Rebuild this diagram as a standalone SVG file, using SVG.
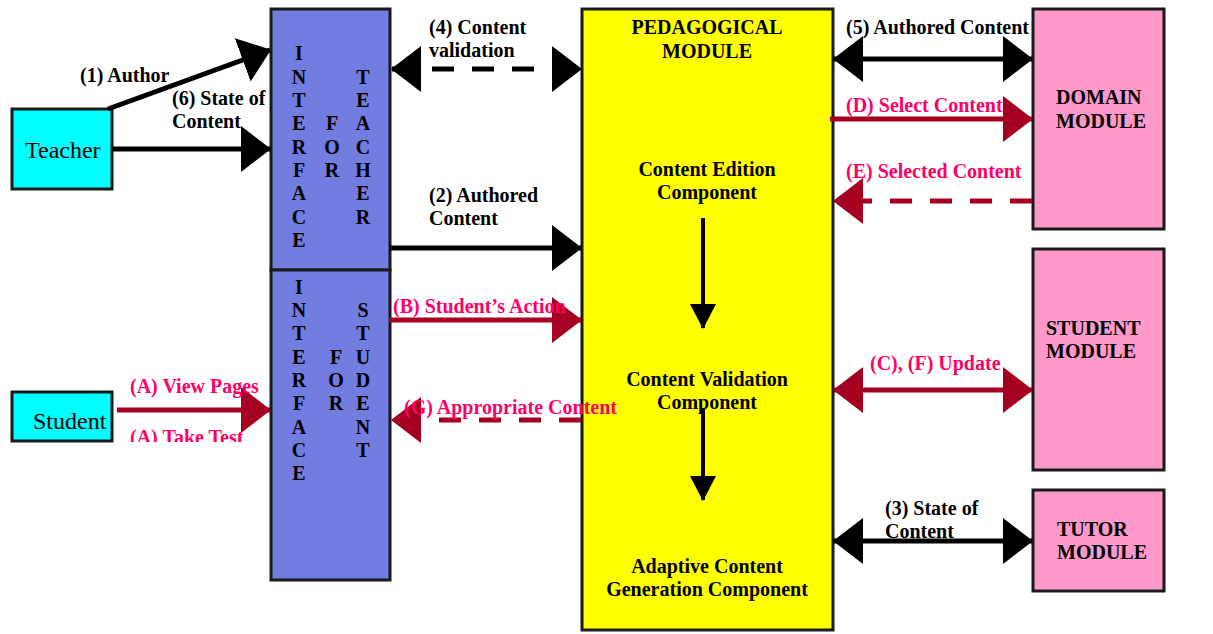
<svg xmlns="http://www.w3.org/2000/svg" width="1213" height="634" viewBox="0 0 1213 634">
<defs>
<style>
.box{stroke:#1a1a1a;stroke-width:3}
.lbl{font-family:"Liberation Serif","Times New Roman",serif;font-weight:bold;font-size:20px;fill:#000}
.pk{fill:#FF0066}
.mid{text-anchor:middle}
.big{font-family:"Liberation Serif","Times New Roman",serif;font-size:24px;fill:#000}
.blk{stroke:#000;stroke-width:5;fill:none}
.red{stroke:#A50021;stroke-width:5;fill:none}
.dash{stroke-dasharray:22 18}
</style>
<marker id="hb" viewBox="0 0 30 46" refX="29" refY="23" markerWidth="30" markerHeight="46" markerUnits="userSpaceOnUse" orient="auto-start-reverse"><path d="M0,0L30,23L0,46Z" fill="#000"/></marker>
<marker id="hr" viewBox="0 0 30 46" refX="29" refY="23" markerWidth="30" markerHeight="46" markerUnits="userSpaceOnUse" orient="auto-start-reverse"><path d="M0,0L30,23L0,46Z" fill="#A50021"/></marker>
<marker id="hs" viewBox="0 0 25 26" refX="24" refY="13" markerWidth="25" markerHeight="26" markerUnits="userSpaceOnUse" orient="auto"><path d="M0,0L25,13L0,26Z" fill="#000"/></marker>
<clipPath id="cl"><rect x="0" y="0" width="1213" height="442"/></clipPath>
</defs>

<g id="teacher"><rect class="box" x="12" y="109" width="100" height="80" fill="#00FFFF"/><text class="big" x="25" y="158">Teacher</text></g>
<g id="student"><rect class="box" x="12" y="392" width="100" height="49" fill="#00FFFF"/><text class="big" x="33" y="429">Student</text></g>

<g id="interface-teacher"><rect class="box" x="271" y="9" width="119" height="261" fill="#717DDF"/>
<g class="lbl mid">
<text x="299" y="60">I</text><text x="299" y="84">N</text><text x="299" y="107">T</text><text x="299" y="130">E</text><text x="299" y="154">R</text><text x="299" y="177">F</text><text x="299" y="200">A</text><text x="299" y="224">C</text><text x="299" y="247">E</text>
<text x="332" y="130">F</text><text x="332" y="154">O</text><text x="332" y="177">R</text>
<text x="363" y="84">T</text><text x="363" y="107">E</text><text x="363" y="130">A</text><text x="363" y="154">C</text><text x="363" y="177">H</text><text x="363" y="200">E</text><text x="363" y="224">R</text>
</g></g>

<g id="interface-student"><rect class="box" x="271" y="270" width="119" height="310" fill="#717DDF"/>
<g class="lbl mid">
<text x="299" y="294">I</text><text x="299" y="317">N</text><text x="299" y="340">T</text><text x="299" y="364">E</text><text x="299" y="387">R</text><text x="299" y="410">F</text><text x="299" y="434">A</text><text x="299" y="457">C</text><text x="299" y="480">E</text>
<text x="336" y="364">F</text><text x="336" y="387">O</text><text x="336" y="410">R</text>
<text x="363" y="317">S</text><text x="363" y="340">T</text><text x="363" y="364">U</text><text x="363" y="387">D</text><text x="363" y="410">E</text><text x="363" y="434">N</text><text x="363" y="457">T</text>
</g></g>

<g id="pedagogical"><rect class="box" x="582" y="9" width="251" height="621" fill="#FFFF00"/>
<g class="lbl mid">
<text x="707" y="34">PEDAGOGICAL</text><text x="707" y="58">MODULE</text>
<text x="707" y="176">Content Edition</text><text x="707" y="199">Component</text>
<text x="707" y="386">Content Validation</text><text x="707" y="409">Component</text>
<text x="707" y="573">Adaptive Content</text><text x="707" y="596">Generation Component</text>
</g>
<line x1="703" y1="218" x2="703" y2="328" stroke="#000" stroke-width="4" marker-end="url(#hs)"/>
<line x1="703" y1="408" x2="703" y2="500" stroke="#000" stroke-width="4" marker-end="url(#hs)"/>
</g>

<g id="domain"><rect class="box" x="1033" y="9" width="131" height="220" fill="#FF99CC"/><text class="lbl" x="1056" y="104">DOMAIN</text><text class="lbl" x="1056" y="128">MODULE</text></g>
<g id="student-module"><rect class="box" x="1033" y="249" width="131" height="221" fill="#FF99CC"/><text class="lbl" x="1046" y="335">STUDENT</text><text class="lbl" x="1046" y="358">MODULE</text></g>
<g id="tutor"><rect class="box" x="1033" y="490" width="131" height="101" fill="#FF99CC"/><text class="lbl" x="1057" y="536">TUTOR</text><text class="lbl" x="1057" y="559">MODULE</text></g>

<g id="connectors">
<line class="blk" x1="108" y1="109" x2="270" y2="50" marker-end="url(#hb)"/>
<line class="blk" x1="112" y1="149" x2="270" y2="149" marker-end="url(#hb)"/>
<line class="red" x1="117" y1="410" x2="270" y2="410" stroke-width="6" marker-end="url(#hr)"/>
<line class="blk dash" x1="392" y1="69" x2="581" y2="69" marker-start="url(#hb)" marker-end="url(#hb)"/>
<line class="blk" x1="389" y1="248" x2="581" y2="248" marker-end="url(#hb)"/>
<line class="red" x1="389" y1="320" x2="581" y2="320" marker-end="url(#hr)"/>
<line class="red dash" x1="581" y1="420" x2="392" y2="420" marker-end="url(#hr)"/>
<line class="blk" x1="834" y1="59" x2="1032" y2="59" marker-start="url(#hb)" marker-end="url(#hb)"/>
<line class="red" x1="830" y1="119" x2="1032" y2="119" marker-end="url(#hr)"/>
<line class="red dash" x1="1032" y1="201" x2="834" y2="201" marker-end="url(#hr)"/>
<line class="red" x1="834" y1="390" x2="1032" y2="390" marker-start="url(#hr)" marker-end="url(#hr)"/>
<line class="blk" x1="834" y1="541" x2="1032" y2="541" marker-start="url(#hb)" marker-end="url(#hb)"/>

<text class="lbl" x="80" y="82">(1) Author</text>
<text class="lbl" x="172" y="105">(6) State of</text><text class="lbl" x="172" y="128">Content</text>
<text class="lbl pk" x="130" y="393">(A) View Pages</text>
<text class="lbl pk" x="130" y="444" clip-path="url(#cl)">(A) Take Test</text>
<text class="lbl" x="429" y="34">(4) Content</text><text class="lbl" x="429" y="57">validation</text>
<text class="lbl" x="429" y="202">(2) Authored</text><text class="lbl" x="429" y="225">Content</text>
<text class="lbl pk" x="393" y="313">(B) Student’s Action</text>
<text class="lbl pk" x="404" y="414">(G) Appropriate Content</text>
<text class="lbl" x="846" y="34">(5) Authored Content</text>
<text class="lbl pk" x="846" y="112">(D) Select Content</text>
<text class="lbl pk" x="846" y="178">(E) Selected Content</text>
<text class="lbl pk" x="870" y="370">(C), (F) Update</text>
<text class="lbl" x="885" y="515">(3) State of</text><text class="lbl" x="885" y="538">Content</text>
</g>
</svg>
